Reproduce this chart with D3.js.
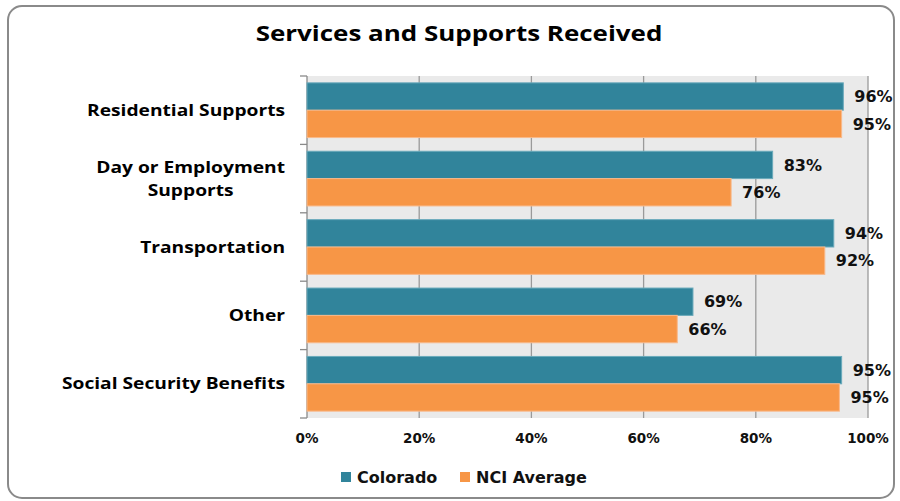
<!DOCTYPE html>
<html>
<head>
<meta charset="utf-8">
<script src="https://cdn.jsdelivr.net/npm/d3@7/dist/d3.min.js"></script>
<style>
html,body{margin:0;padding:0;background:#fff;}
svg{display:block;}
</style>
</head>
<body>
<svg id="chart" width="900" height="501"></svg>
<script>
const title = "Services and Supports Received";
const categories = ["Residential Supports", "Day or Employment Supports", "Transportation", "Other", "Social Security Benefits"];
const categoryLines = [["Residential Supports"], ["Day or Employment", "Supports"], ["Transportation"], ["Other"], ["Social Security Benefits"]];
const seriesNames = ["Colorado", "NCI Average"];
const colorado = [95.6, 83.0, 93.9, 68.8, 95.3];
const nciAverage = [95.3, 75.6, 92.3, 66.0, 94.9];
const colorLabels = ["96%", "83%", "94%", "69%", "95%"];
const nciLabels = ["95%", "76%", "92%", "66%", "95%"];
const xTicks = [0, 20, 40, 60, 80, 100];
const colors = ["#31849B", "#F79646"];

const svg = d3.select("#chart");
const plot = {left: 307, right: 868, top: 76, bottom: 418};
const stretch = 1.18;
const catStretch = 1.2;

// outer border
svg.append("rect").attr("x", 8).attr("y", 6).attr("width", 886).attr("height", 492)
  .attr("rx", 14).attr("ry", 14).attr("fill", "#fff").attr("stroke", "#8a8a8a").attr("stroke-width", 2);

svg.append("g").attr("transform", `translate(459,41) scale(${stretch},1)`)
  .append("text").attr("text-anchor", "middle")
  .attr("font-family", "'Open Sans', sans-serif").attr("font-weight", "bold").attr("font-size", 22)
  .attr("fill", "#000").text(title);

const x = d3.scaleLinear().domain([0, 100]).range([plot.left, plot.right]);
const y = d3.scaleBand().domain(categories).range([plot.top, plot.bottom]).paddingInner(0.2).paddingOuter(0.1);
const sub = d3.scaleBand().domain(seriesNames).range([0, y.bandwidth()]);

svg.append("rect").attr("x", plot.left).attr("y", plot.top)
  .attr("width", plot.right - plot.left).attr("height", plot.bottom - plot.top).attr("fill", "#EAEAEA");

// gridlines
svg.append("g").selectAll("line").data(xTicks.filter(d => d > 0)).join("line")
  .attr("x1", d => x(d)).attr("x2", d => x(d)).attr("y1", plot.top).attr("y2", plot.bottom)
  .attr("stroke", "#9a9a9a").attr("stroke-width", 1.3);

// left axis with boundary ticks
const step = y.step();
const boundaries = d3.range(categories.length + 1).map(i => plot.top + i * step);
svg.append("line").attr("x1", plot.left).attr("x2", plot.left).attr("y1", plot.top).attr("y2", plot.bottom)
  .attr("stroke", "#8a8a8a").attr("stroke-width", 1.3);
svg.append("g").selectAll("line").data(boundaries).join("line")
  .attr("x1", plot.left - 7).attr("x2", plot.left).attr("y1", d => d).attr("y2", d => d)
  .attr("stroke", "#8a8a8a").attr("stroke-width", 1.3);

const rows = categories.map((c, i) => ({c, i, vals: [colorado[i], nciAverage[i]], labels: [colorLabels[i], nciLabels[i]]}));
const groups = svg.append("g").selectAll("g").data(rows).join("g")
  .attr("transform", d => `translate(0,${y(d.c)})`);

groups.each(function(d) {
  const g = d3.select(this);
  seriesNames.forEach((s, k) => {
    g.append("rect").attr("x", x(0)).attr("y", sub(s))
      .attr("width", x(d.vals[k]) - x(0)).attr("height", sub.bandwidth())
      .attr("fill", colors[k]).attr("stroke", k === 0 ? "#6aaabb" : "#f9b98a").attr("stroke-width", 1);
    g.append("text").attr("x", x(d.vals[k]) + 11).attr("y", sub(s) + sub.bandwidth() / 2)
      .attr("dy", "0.36em").attr("font-family", "'DejaVu Sans', sans-serif").attr("font-weight", "bold")
      .attr("font-size", 16).attr("fill", "#111").text(d.labels[k]);
  });
});

// category labels
rows.forEach(d => {
  const lines = categoryLines[d.i];
  const cy = y(d.c) + y.bandwidth() / 2;
  const place = (tx, ty, anchor, txt) => {
    const t = svg.append("g").attr("transform", `translate(${tx},${ty}) scale(${catStretch},1)`)
      .append("text").attr("dy", "0.35em").attr("text-anchor", anchor)
      .attr("font-family", "'Open Sans', sans-serif").attr("font-weight", "bold").attr("font-size", 16)
      .attr("fill", "#000").text(txt);
    return t;
  };
  if (lines.length === 1) {
    place(285, cy, "end", lines[0]);
  } else {
    const first = place(285, cy - 11, "end", lines[0]);
    const w = first.node().getComputedTextLength() * catStretch;
    place(285 - w / 2, cy + 12, "middle", lines[1]);
  }
});

// x tick labels
svg.append("g").selectAll("text").data(xTicks).join("text")
  .attr("x", d => x(d)).attr("y", 438).attr("dy", "0.35em").attr("text-anchor", "middle")
  .attr("font-family", "'DejaVu Sans', sans-serif").attr("font-weight", "bold").attr("font-size", 13.5)
  .attr("fill", "#111").text(d => d + "%");

// legend
const legendX = [341, 460];
seriesNames.forEach((s, k) => {
  svg.append("rect").attr("x", legendX[k]).attr("y", 472).attr("width", 10).attr("height", 10).attr("fill", colors[k]);
  svg.append("text").attr("x", legendX[k] + 16).attr("y", 477).attr("dy", "0.36em")
    .attr("font-family", "'DejaVu Sans', sans-serif").attr("font-weight", "bold").attr("font-size", 16)
    .attr("fill", "#111").text(s);
});
</script>
</body>
</html>
